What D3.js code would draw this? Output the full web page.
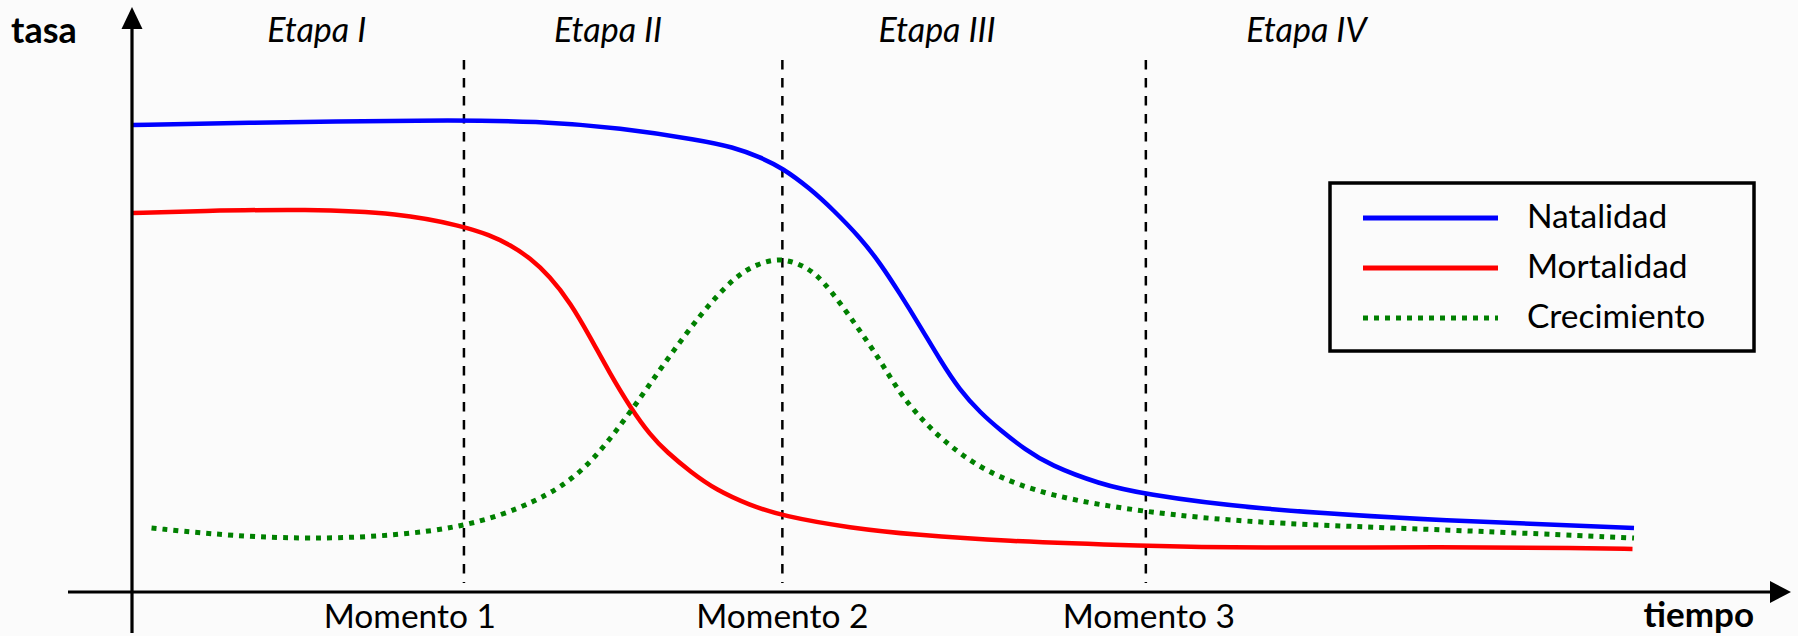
<!DOCTYPE html>
<html><head><meta charset="utf-8">
<script src="https://cdn.jsdelivr.net/npm/d3@7"></script>
<style>
html,body{margin:0;padding:0;background:#fbfbfb;}
svg{display:block;}
text{font-family:Lato,"Open Sans",sans-serif;fill:#000;}
</style></head><body>
<svg id="chart" width="1798" height="636"></svg>
<script>
// ---- data (time 0..100, rate 0..100) ----
const natalidadT = [0, 6.7, 20.0, 27.2, 32.5, 37.8, 40.0, 41.8, 43.3, 45.1, 46.7, 48.5, 49.8, 51.1, 52.5, 53.8, 55.1, 56.5, 57.8, 59.5, 61.1, 64.4, 67.3, 74.4, 87.7, 100];
const natalidadV = [93.4, 93.8, 94.4, 94.2, 92.8, 90.4, 89.0, 87.0, 84.8, 80.8, 76.4, 70.8, 65.8, 59.8, 53.0, 46.4, 40.4, 35.8, 32.4, 28.4, 25.4, 21.6, 19.6, 16.6, 14.2, 12.8];

const mortalidadT = [0, 4.5, 11.7, 17.8, 22.0, 23.8, 25.2, 26.5, 27.8, 29.2, 30.5, 31.8, 33.2, 34.5, 35.6, 37.2, 38.9, 41.1, 43.3, 47.8, 52.3, 57.8, 67.4, 74.4, 87.7, 96.6, 99.9];
const mortalidadV = [75.8, 76.2, 76.6, 75.8, 73.2, 71.4, 69.4, 66.8, 63.2, 57.8, 51.0, 43.8, 36.8, 31.4, 28.0, 24.0, 20.4, 17.4, 15.2, 12.8, 11.4, 10.2, 9.2, 8.8, 9.0, 8.8, 8.6];

const crecimientoT = [1.3, 6.5, 13.5, 22.1, 27.2, 29.4, 31.0, 33.2, 35.4, 37.9, 40.1, 41.6, 43.1, 44.5, 45.9, 48.3, 49.8, 51.1, 52.5, 53.8, 56.7, 61.2, 67.4, 74.5, 87.9, 100];
const crecimientoV = [12.8, 11.2, 10.4, 12.4, 18.4, 22.8, 27.4, 36.0, 45.6, 55.8, 63.0, 65.6, 66.8, 65.6, 63.0, 53.0, 46.4, 39.8, 34.8, 30.8, 24.0, 19.0, 16.0, 13.8, 12.4, 10.8];

const momentoPos = [22.1, 43.3, 67.5];
const momentoLabels = ["Momento 1", "Momento 2", "Momento 3"];
const momentoLabelPos = [18.5, 43.3, 67.7];
const etapaLabels = ["Etapa I", "Etapa II", "Etapa III", "Etapa IV"];
const etapaPos = [12.3, 31.7, 53.6, 78.2];
const seriesNames = ["Natalidad", "Mortalidad", "Crecimiento"];
const seriesColors = ["#0000ff", "#ff0000", "#008000"];

// ---- scales ----
const x = d3.scaleLinear().domain([0, 100]).range([132, 1634]);
const y = d3.scaleLinear().domain([0, 100]).range([592, 92]);

const svg = d3.select("#chart");
svg.append("rect").attr("width", 1798).attr("height", 636).attr("fill", "#fbfbfb");

// dashed moment lines
svg.selectAll("line.mom").data(momentoPos).enter().append("line")
  .attr("x1", d => x(d)).attr("x2", d => x(d))
  .attr("y1", 60).attr("y2", 583)
  .attr("stroke", "#000").attr("stroke-width", 2.5).attr("stroke-dasharray", "9.5,8.5");

// series
const line = d3.line().x(d => x(d[0])).y(d => y(d[1])).curve(d3.curveBasis);
const series = [
  {t: natalidadT, v: natalidadV, dash: null},
  {t: mortalidadT, v: mortalidadV, dash: null},
  {t: crecimientoT, v: crecimientoV, dash: "5,6"}
];
series.forEach((s, i) => {
  const pts = s.t.map((t, k) => [t, s.v[k]]);
  svg.append("path").attr("d", line(pts))
    .attr("fill", "none").attr("stroke", seriesColors[i])
    .attr("stroke-width", i === 2 ? 5 : 4.5)
    .attr("stroke-dasharray", s.dash);
});

// axes
const x0 = x(0), yb = y(0);
svg.append("line").attr("x1", x0).attr("x2", x0).attr("y1", 633).attr("y2", 26)
  .attr("stroke", "#000").attr("stroke-width", 3.2);
svg.append("path").attr("d", `M${x0},7 L${x0 - 10.5},29 L${x0 + 10.5},29 Z`).attr("fill", "#000");
svg.append("line").attr("x1", 68).attr("x2", 1773).attr("y1", yb).attr("y2", yb)
  .attr("stroke", "#000").attr("stroke-width", 3.2);
svg.append("path").attr("d", `M1791,${yb} L1770,${yb - 11} L1770,${yb + 11} Z`).attr("fill", "#000");

// axis titles
svg.append("text").attr("x", 11).attr("y", 43).attr("font-size", 36).attr("font-weight", "bold").text("tasa");
svg.append("text").attr("x", 1754).attr("y", 627).attr("text-anchor", "end").attr("font-size", 35).attr("font-weight", "bold").text("tiempo");

// etapa labels
svg.selectAll("text.etapa").data(etapaLabels).enter().append("text")
  .attr("x", (d, i) => x(etapaPos[i])).attr("y", 42)
  .attr("text-anchor", "middle").attr("font-size", 34).attr("font-style", "italic")
  .text(d => d);

// momento labels
svg.selectAll("text.mom").data(momentoLabels).enter().append("text")
  .attr("x", (d, i) => x(momentoLabelPos[i])).attr("y", 628)
  .attr("text-anchor", "middle").attr("font-size", 33.5)
  .text(d => d);

// legend
const lg = svg.append("g");
lg.append("rect").attr("x", 1330).attr("y", 183).attr("width", 424).attr("height", 168)
  .attr("fill", "none").attr("stroke", "#000").attr("stroke-width", 3.5);
seriesNames.forEach((n, i) => {
  const yy = 218 + i * 50;
  lg.append("line").attr("x1", 1363).attr("x2", 1498).attr("y1", yy).attr("y2", yy)
    .attr("stroke", seriesColors[i]).attr("stroke-width", 5)
    .attr("stroke-dasharray", i === 2 ? "5,6" : null);
  lg.append("text").attr("x", 1527).attr("y", yy + 10).attr("font-size", 33.5).text(n);
});
</script>
</body></html>
